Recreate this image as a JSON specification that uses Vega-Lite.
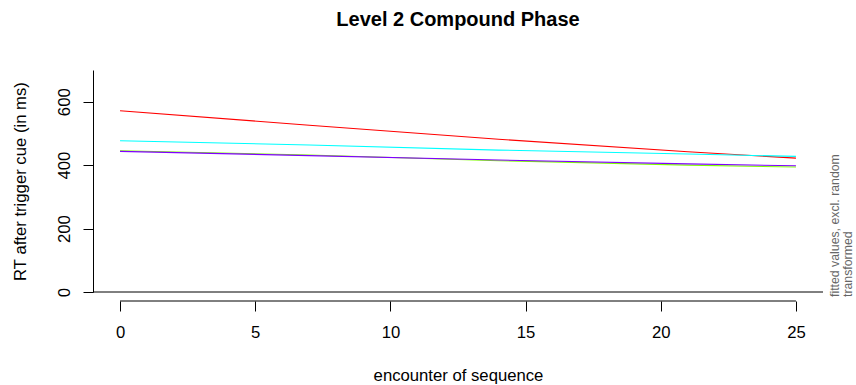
{
  "$schema": "https://vega.github.io/schema/vega-lite/v6.json",
  "width": 730,
  "height": 222,
  "autosize": {"type": "none"},
  "padding": {"left": 93, "top": 70, "right": 33, "bottom": 93},
  "background": "white",
  "title": {
    "text": "Level 2 Compound Phase",
    "fontSize": 20,
    "fontWeight": "bold",
    "font": "Liberation Sans",
    "color": "black",
    "anchor": "middle",
    "frame": "group",
    "offset": 40
  },
  "config": {
    "view": {"stroke": null},
    "font": "Liberation Sans",
    "axis": {
      "labelFont": "Liberation Sans",
      "titleFont": "Liberation Sans",
      "labelColor": "black",
      "titleColor": "black",
      "domainColor": "black",
      "tickColor": "black",
      "labelFontSize": 16.7,
      "titleFontSize": 16.7,
      "titleFontWeight": "normal",
      "grid": false,
      "tickSize": 10,
      "labelFlush": false,
      "labelOverlap": false
    }
  },
  "layer": [
    {
      "data": {
        "values": [
          {"encounter": 0, "series": "A", "rt": 571.6},
          {"encounter": 7, "series": "A", "rt": 526},
          {"encounter": 14, "series": "A", "rt": 481.5},
          {"encounter": 21, "series": "A", "rt": 442},
          {"encounter": 25, "series": "A", "rt": 422},
          {"encounter": 0, "series": "B", "rt": 445.5},
          {"encounter": 7, "series": "B", "rt": 432},
          {"encounter": 14, "series": "B", "rt": 414},
          {"encounter": 21, "series": "B", "rt": 400},
          {"encounter": 25, "series": "B", "rt": 394},
          {"encounter": 0, "series": "C", "rt": 477},
          {"encounter": 7, "series": "C", "rt": 463.5},
          {"encounter": 14, "series": "C", "rt": 447.5},
          {"encounter": 21, "series": "C", "rt": 435},
          {"encounter": 25, "series": "C", "rt": 427.5},
          {"encounter": 0, "series": "D", "rt": 443.5},
          {"encounter": 7, "series": "D", "rt": 430},
          {"encounter": 14, "series": "D", "rt": 416},
          {"encounter": 21, "series": "D", "rt": 404},
          {"encounter": 25, "series": "D", "rt": 398}
        ]
      },
      "mark": {"type": "line", "strokeWidth": 1.1},
      "encoding": {
        "x": {
          "field": "encounter",
          "type": "quantitative",
          "scale": {"domain": [-1, 26], "nice": false, "zero": false},
          "axis": {
            "values": [0, 5, 10, 15, 20, 25],
            "domain": false,
            "offset": 9,
            "labelPadding": 13,
            "title": "encounter of sequence",
            "titlePadding": 27
          }
        },
        "y": {
          "field": "rt",
          "type": "quantitative",
          "scale": {"domain": [0, 700], "nice": false},
          "axis": {
            "values": [0, 100, 200, 300, 400, 500, 600, 700],
            "labelExpr": "(datum.value % 200 == 0 && datum.value <= 600) ? datum.label : ''",
            "labelAngle": 270,
            "labelAlign": "center",
            "labelBaseline": "alphabetic",
            "labelPadding": 14,
            "title": "RT after trigger cue (in ms)",
            "titlePadding": 27
          }
        },
        "color": {
          "field": "series",
          "type": "nominal",
          "scale": {"domain": ["A", "B", "C", "D"], "range": ["#FF0000", "#80FF00", "#00FFFF", "#8000FF"]},
          "legend": null
        },
        "order": {"field": "encounter", "type": "quantitative"}
      }
    },
    {
      "data": {"values": [{"base": 0}]},
      "mark": {"type": "rule", "color": "black", "strokeWidth": 1},
      "encoding": {"y": {"field": "base", "type": "quantitative"}}
    },
    {
      "data": {"values": [{"start": 0, "end": 25, "base": 0}]},
      "mark": {"type": "rule", "color": "black", "strokeWidth": 1, "yOffset": 9},
      "encoding": {
        "x": {"field": "start", "type": "quantitative"},
        "x2": {"field": "end"},
        "y": {"field": "base", "type": "quantitative"}
      }
    },
    {
      "data": {"values": [{"xpos": 26, "ypos": 0}]},
      "mark": {
        "type": "text",
        "angle": 270,
        "align": "left",
        "baseline": "top",
        "dx": -5,
        "dy": 6,
        "fontSize": 12.3,
        "lineHeight": 13,
        "color": "#666666",
        "font": "Liberation Sans"
      },
      "encoding": {
        "x": {"field": "xpos", "type": "quantitative"},
        "y": {"field": "ypos", "type": "quantitative"},
        "text": {"value": ["fitted values, excl. random", "transformed"]}
      }
    }
  ]
}
